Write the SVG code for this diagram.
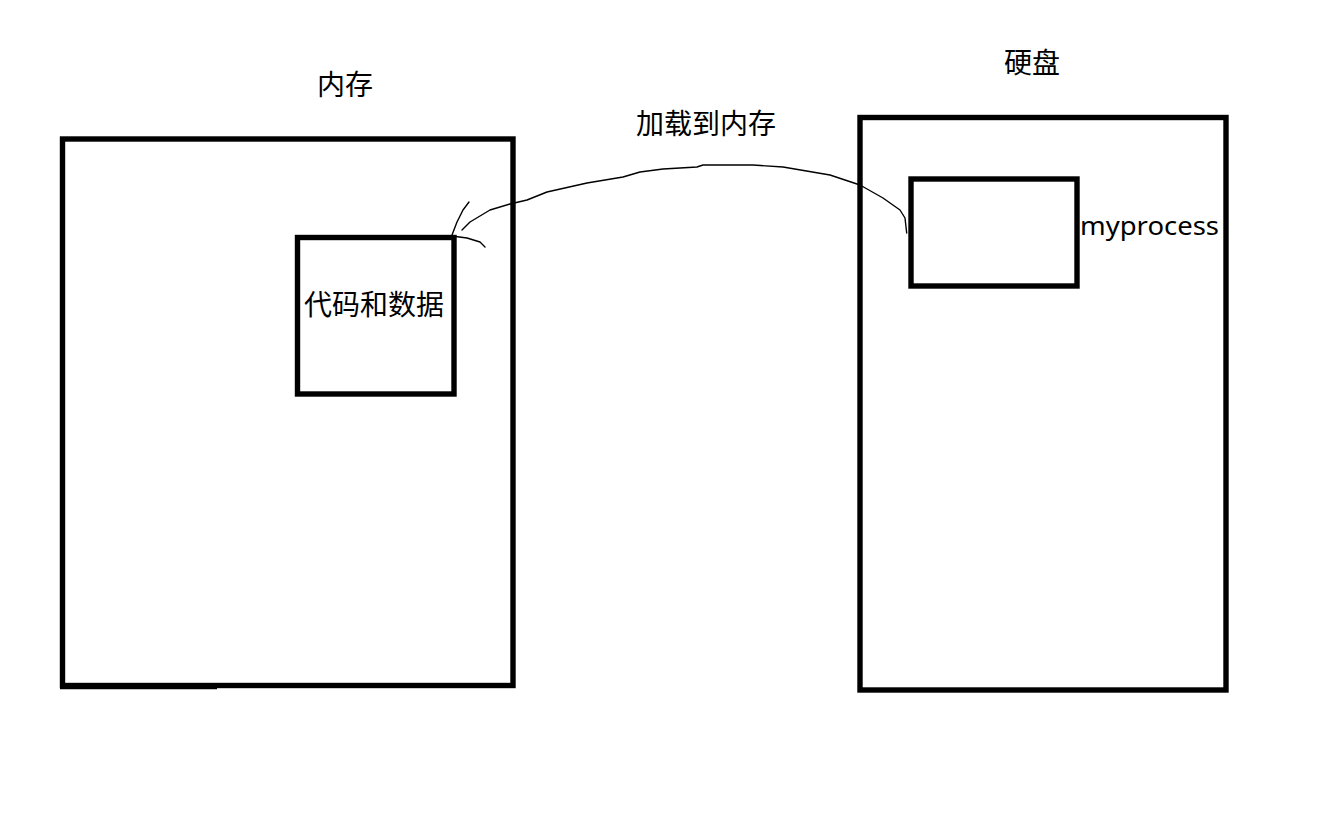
<svg xmlns="http://www.w3.org/2000/svg" width="1343" height="828" viewBox="0 0 1343 828">
<style>
.box{fill:none;stroke:#000;stroke-width:5.4}
.lbl{font-family:"Microsoft YaHei","Noto Sans","Noto Sans CJK SC",sans-serif;font-size:28px;fill:#000;text-anchor:middle}
.wire{fill:none;stroke:#000;stroke-width:1.4;stroke-linecap:round;stroke-linejoin:round}
</style>
<rect width="1343" height="828" fill="#fff"/>
<g id="memory">
<rect class="box" x="62.5" y="139" width="450.5" height="546.5"/>
<line x1="60" y1="686.3" x2="217" y2="686.3" stroke="#000" stroke-width="6"/>
<text class="lbl" x="345" y="95">内存</text>
</g>
<g id="code-data">
<rect class="box" x="297.5" y="237.5" width="156.5" height="156.5"/>
<text class="lbl" x="374" y="315">代码和数据</text>
</g>
<g id="disk">
<rect class="box" x="860" y="117.5" width="366" height="572.5"/>
<text class="lbl" x="1032" y="73">硬盘</text>
</g>
<g id="myprocess">
<rect class="box" x="911" y="179" width="166" height="107"/>
<text x="1080" y="235" font-family="'Noto Sans','Microsoft YaHei',sans-serif" font-size="26" textLength="139" lengthAdjust="spacingAndGlyphs">myprocess</text>
</g>
<g id="connectors">
<path class="wire" d="M906.7,233 L905,218 L900,210 L883,198 L860,185 L830,175 L783,167 L753,165 L703,165 L697,167 L663,169 L640,172 L623,177 L587,183 L547,192 L527,200 L510,204 L490,210 L470,222 L462,230"/>
<path class="wire" d="M469,202 L463,210 L457,222 L452,235"/>
<path class="wire" d="M452,236 L467,238 L480,242 L485,247"/>
<text class="lbl" x="706" y="134">加载到内存</text>
</g>
</svg>
